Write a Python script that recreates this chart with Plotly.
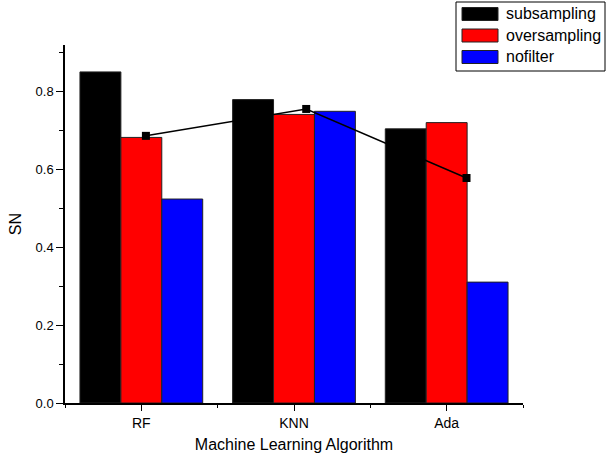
import plotly.graph_objects as go

categories = ["RF", "KNN", "Ada"]
cat_pos = [0, 1, 2]
subsampling = [0.849, 0.778, 0.703]
oversampling = [0.681, 0.740, 0.719]
nofilter = [0.523, 0.748, 0.310]
line_x = [0.03, 1.08, 2.13]
line_y = [0.685, 0.754, 0.577]

series = [("subsampling", subsampling, "#000000"),
          ("oversampling", oversampling, "#ff0000"),
          ("nofilter", nofilter, "#0000ff")]

fig = go.Figure()
for name, vals, col in series:
    fig.add_trace(go.Bar(x=cat_pos, y=vals, name=name, marker=dict(color=col, line=dict(color="#222222", width=1)),
                         showlegend=False))
fig.add_trace(go.Scatter(x=line_x, y=line_y, mode="lines+markers", showlegend=False,
                         line=dict(color="black", width=1.5),
                         marker=dict(symbol="square", size=8, color="black")))

# custom legend (box with wide swatches)
shapes = [dict(type="rect", xref="paper", yref="paper", x0=(456-65)/458, x1=(605-65)/458,
               y0=(403-71)/358, y1=(403-2)/358, line=dict(color="black", width=1), fillcolor="white")]
annotations = []
for i, (name, vals, col) in enumerate(series):
    yc = 14 + i * 21.5
    shapes.append(dict(type="rect", xref="paper", yref="paper",
                       x0=(462-65)/458, x1=(498-65)/458,
                       y0=(403-(yc+6.5))/358, y1=(403-(yc-6.5))/358,
                       fillcolor=col, line=dict(color="#222222", width=1)))
    annotations.append(dict(xref="paper", yref="paper", x=(504-65)/458, y=(403-yc)/358,
                            text=name, showarrow=False, xanchor="left", yanchor="middle",
                            font=dict(size=16, color="black", family="Liberation Sans, Arial")))

fig.update_layout(
    width=609, height=460,
    margin=dict(l=65, r=86, t=45, b=57, autoexpand=False),
    paper_bgcolor="white", plot_bgcolor="white",
    barmode="group", bargap=0.196, bargroupgap=0,
    font=dict(family="Liberation Sans, Arial", color="black"),
    shapes=shapes, annotations=annotations,
    xaxis=dict(range=[-0.5, 2.5], tickvals=cat_pos, ticktext=categories, automargin=False,
               showline=True, linecolor="black", linewidth=1.5, ticks="outside", ticklen=6,
               tickcolor="black", showgrid=False, zeroline=False, tickfont=dict(size=14),
               minor=dict(tickvals=[-0.5, 0.5, 1.5, 2.5], ticks="outside", ticklen=3, tickcolor="black"),
               title=dict(text="Machine Learning Algorithm", font=dict(size=16), standoff=9)),
    yaxis=dict(range=[0, 0.918], tickvals=[0, 0.2, 0.4, 0.6, 0.8], ticktext=["0.0", "0.2", "0.4", "0.6", "0.8"],
               automargin=False,
               showline=True, linecolor="black", linewidth=1.5, ticks="outside", ticklen=7,
               tickcolor="black", showgrid=False, zeroline=False, tickfont=dict(size=13),
               minor=dict(tickvals=[0.1, 0.3, 0.5, 0.7, 0.9], ticks="outside", ticklen=4, tickcolor="black"),
               title=dict(text="SN", font=dict(size=16), standoff=10)),
)

fig.write_html("out.html", config={"displayModeBar": False},
               post_script="document.body.style.margin='0';document.body.style.overflow='hidden';")
